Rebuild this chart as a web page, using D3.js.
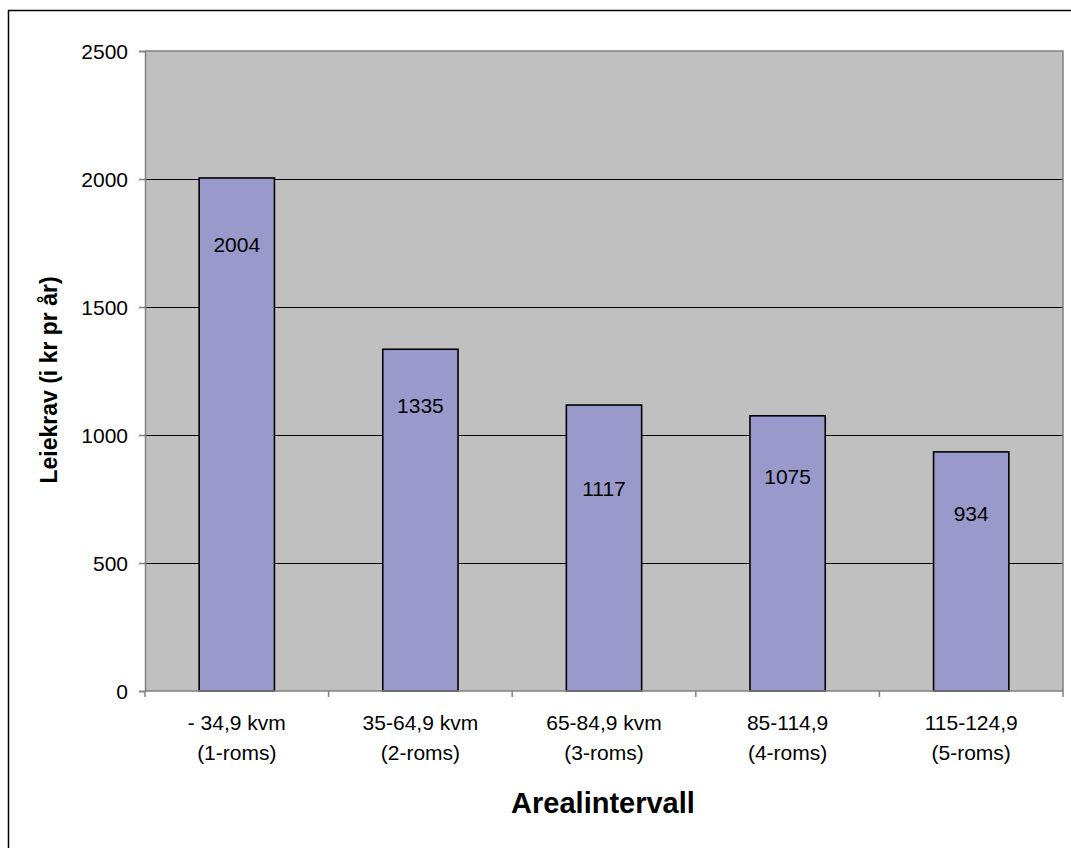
<!DOCTYPE html>
<html>
<head>
<meta charset="utf-8">
<script src="https://cdn.jsdelivr.net/npm/d3@7"></script>
<style>
  html, body { margin: 0; padding: 0; background: #fff; }
  svg { display: block; }
  text { font-family: "Liberation Sans", Arial, sans-serif; fill: #000; }
</style>
</head>
<body>
<svg id="chart" width="1071" height="848"></svg>
<script>
// Average rent demand per size interval
const categoryLine1 = ["- 34,9 kvm", "35-64,9 kvm", "65-84,9 kvm", "85-114,9", "115-124,9"];
const categoryLine2 = ["(1-roms)", "(2-roms)", "(3-roms)", "(4-roms)", "(5-roms)"];
const rentValues = [2004, 1335, 1117, 1075, 934];
const yTicks = [0, 500, 1000, 1500, 2000, 2500];

const yTitle = "Leiekrav (i kr pr år)";
const xTitle = "Arealintervall";

// Vertical drop of each value label below its bar top (px)
const labelDrop = [67, 56, 83, 61, 62];

const svg = d3.select("#chart");
const plot = { left: 145, top: 51, right: 1063, bottom: 691 };
const fontSize = "21px";

// Outer chart frame
svg.append("rect")
  .attr("x", 8.5).attr("y", 10.5)
  .attr("width", 1100).attr("height", 900)
  .attr("fill", "#fff").attr("stroke", "#000").attr("stroke-width", 1.5);

const x = d3.scaleBand()
  .domain(d3.range(rentValues.length))
  .range([plot.left, plot.right])
  .paddingInner(0.59).paddingOuter(0.295);

const xOuter = d3.scaleBand()
  .domain(d3.range(rentValues.length))
  .range([plot.left, plot.right]);

const y = d3.scaleLinear().domain([0, 2500]).range([plot.bottom, plot.top]);

// Plot background
svg.append("rect")
  .attr("x", plot.left).attr("y", plot.top)
  .attr("width", plot.right - plot.left).attr("height", plot.bottom - plot.top)
  .attr("fill", "#C0C0C0");

// Gridlines
svg.append("g").selectAll("line")
  .data(yTicks.filter(d => d > 0 && d < 2500))
  .join("line")
  .attr("x1", plot.left).attr("x2", plot.right)
  .attr("y1", d => Math.round(y(d)) + 0.5).attr("y2", d => Math.round(y(d)) + 0.5)
  .attr("stroke", "#000").attr("stroke-width", 1);

// Plot border (top and right)
svg.append("path")
  .attr("d", `M${plot.left},${plot.top}H${plot.right}V${plot.bottom}`)
  .attr("fill", "none").attr("stroke", "#808080").attr("stroke-width", 1.5);

// Bars
svg.append("g").selectAll("rect")
  .data(rentValues)
  .join("rect")
  .attr("x", (d, i) => x(i))
  .attr("y", d => y(d))
  .attr("width", x.bandwidth())
  .attr("height", d => y(0) - y(d))
  .attr("fill", "#9999CC")
  .attr("stroke", "#000").attr("stroke-width", 1.6);

// Value labels
svg.append("g").selectAll("text")
  .data(rentValues)
  .join("text")
  .attr("x", (d, i) => x(i) + x.bandwidth() / 2)
  .attr("y", (d, i) => y(d) + labelDrop[i] + 7.5)
  .attr("text-anchor", "middle")
  .style("font-size", fontSize)
  .text(d => d);

// Y axis
const yAxis = d3.axisLeft(y).tickValues(yTicks).tickFormat(d3.format("d")).tickSize(6).tickPadding(11);
const gy = svg.append("g").attr("transform", `translate(${plot.left},0)`).call(yAxis);
gy.select(".domain").attr("stroke", "#808080").attr("stroke-width", 1.5);
gy.selectAll(".tick line").attr("stroke", "#808080").attr("stroke-width", 1.5);
gy.selectAll(".tick text")
  .attr("dy", "0.36em")
  .style("font-size", fontSize)
  .style("font-family", "Liberation Sans, Arial, sans-serif").attr("fill", "#000");

// X axis line and category ticks
svg.append("line")
  .attr("x1", plot.left).attr("x2", plot.right)
  .attr("y1", plot.bottom).attr("y2", plot.bottom)
  .attr("stroke", "#808080").attr("stroke-width", 1.5);
const boundaries = d3.range(rentValues.length).map(i => xOuter(i)).concat([plot.right]);
svg.append("g").selectAll("line")
  .data(boundaries)
  .join("line")
  .attr("x1", d => d).attr("x2", d => d)
  .attr("y1", plot.bottom).attr("y2", plot.bottom + 6)
  .attr("stroke", "#808080").attr("stroke-width", 1.5);

// Category labels (two lines)
const cat = svg.append("g").selectAll("text")
  .data(categoryLine1)
  .join("text")
  .attr("text-anchor", "middle")
  .style("font-size", fontSize);
cat.append("tspan")
  .attr("x", (d, i) => xOuter(i) + xOuter.bandwidth() / 2)
  .attr("y", 730)
  .text(d => d);
cat.append("tspan")
  .attr("x", (d, i) => xOuter(i) + xOuter.bandwidth() / 2)
  .attr("y", 760)
  .text((d, i) => categoryLine2[i]);

// Axis titles
svg.append("text")
  .attr("transform", `translate(57,380) rotate(-90)`)
  .attr("text-anchor", "middle")
  .style("font-size", "23px").style("font-weight", "bold")
  .text(yTitle);

svg.append("text")
  .attr("x", 603).attr("y", 813)
  .attr("text-anchor", "middle")
  .style("font-size", "29px").style("font-weight", "bold")
  .text(xTitle);
</script>
</body>
</html>
